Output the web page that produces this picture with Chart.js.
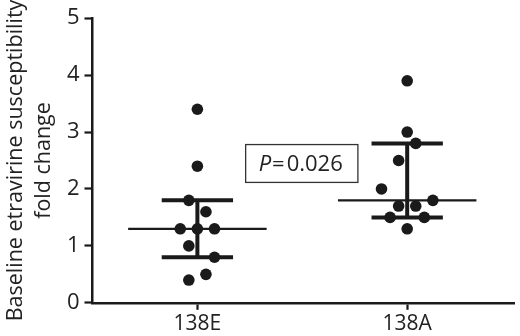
<!DOCTYPE html>
<html>
<head>
<meta charset="utf-8">
<script src="https://cdn.jsdelivr.net/npm/chart.js@4"></script>
<style>
  html, body { margin: 0; padding: 0; background: #fff; }
  #wrap { width: 520px; height: 336px; }
</style>
</head>
<body>
<div id="wrap"><canvas id="chart" width="520" height="336"></canvas></div>
<script>
// categories and values
const categories = ["138E", "138A"];
const values138E = [3.4, 2.4, 1.8, 1.6, 1.3, 1.3, 1.3, 1.0, 0.8, 0.5, 0.4];
const jitter138E = [0, 0, -1, 1, -2, 0, 2, -1, 2, 1, -1];
const values138A = [3.9, 3.0, 2.8, 2.5, 2.0, 1.8, 1.7, 1.7, 1.5, 1.5, 1.3];
const jitter138A = [0, 0, 1, -1, -3, 3, -1, 1, -2, 2, 0];
const medians = [1.3, 1.8];
const q1 = [0.8, 1.5];
const q3 = [1.8, 2.8];
const yTicks = [0, 1, 2, 3, 4, 5];
const pLabel = "0.026";

const INK = "#1a1a1a";
const STEP = 0.0408;     // horizontal spacing of dots, x units
const MED_HALF = 0.33;   // half width of median line
const CAP_HALF = 0.17;   // half width of IQR caps

function dots(vals, jit, cat) {
    return vals.map((v, i) => ({ x: cat + jit[i] * STEP, y: v }));
}

// median lines, caps and whiskers as one line dataset each, gaps between segments
const medianPts = [];
const iqrPts = [];
categories.forEach((c, i) => {
    const x = i + 1;
    medianPts.push({ x: x - MED_HALF, y: medians[i] }, { x: x + MED_HALF, y: medians[i] }, { x: x, y: null });
    iqrPts.push({ x: x - CAP_HALF, y: q3[i] }, { x: x + CAP_HALF, y: q3[i] }, { x: x, y: null });
    iqrPts.push({ x: x - CAP_HALF, y: q1[i] }, { x: x + CAP_HALF, y: q1[i] }, { x: x, y: null });
    iqrPts.push({ x: x, y: q1[i] }, { x: x, y: q3[i] }, { x: x, y: null });
});

// P value box, in data coordinates
const pBox = { x0: 1.23, x1: 1.765, y0: 2.115, y1: 2.78 };

const pBoxPlugin = {
    id: "pBox",
    afterDatasetsDraw(chart) {
        const { ctx, scales } = chart;
        const l = scales.x.getPixelForValue(pBox.x0);
        const r = scales.x.getPixelForValue(pBox.x1);
        const t = scales.y.getPixelForValue(pBox.y1);
        const b = scales.y.getPixelForValue(pBox.y0);
        ctx.save();
        ctx.strokeStyle = "#333";
        ctx.lineWidth = 1.3;
        ctx.strokeRect(l, t, r - l, b - t);
        ctx.fillStyle = "#222";
        ctx.textBaseline = "middle";
        const cy = (t + b) / 2 + 1;
        ctx.font = "italic 22px 'Open Sans'";
        let x = l + 13;
        ctx.fillText("P", x, cy);
        x += ctx.measureText("P").width + 1;
        ctx.font = "22px 'Open Sans'";
        ctx.fillText("=", x, cy);
        x += ctx.measureText("=").width + 2;
        ctx.fillText(pLabel, x, cy);
        ctx.restore();
    }
};

new Chart(document.getElementById("chart"), {
    type: "scatter",
    data: {
        datasets: [
            {
                type: "line",
                data: medianPts,
                borderColor: INK,
                borderWidth: 2.2,
                pointRadius: 0,
                spanGaps: false,
                order: 2
            },
            {
                type: "line",
                data: iqrPts,
                borderColor: INK,
                borderWidth: 4,
                borderCapStyle: "butt",
                pointRadius: 0,
                spanGaps: false,
                order: 2
            },
            {
                data: dots(values138E, jitter138E, 1),
                backgroundColor: INK,
                borderWidth: 0,
                pointRadius: 5.8,
                order: 1
            },
            {
                data: dots(values138A, jitter138A, 2),
                backgroundColor: INK,
                borderWidth: 0,
                pointRadius: 5.8,
                order: 1
            }
        ]
    },
    options: {
        responsive: false,
        animation: false,
        layout: { padding: { top: 6, right: 0, left: 2, bottom: -3 } },
        plugins: {
            legend: { display: false },
            tooltip: { enabled: false }
        },
        scales: {
            x: {
                type: "linear",
                min: 0.5,
                max: 2.51,
                afterBuildTicks: (axis) => {
                    axis.ticks = categories.map((c, i) => ({ value: i + 1 }));
                },
                ticks: {
                    callback: (v) => categories[Math.round(v) - 1],
                    color: "#222",
                    font: { family: "'Open Sans'", size: 21 },
                    padding: 2,
                    maxRotation: 0
                },
                grid: { drawOnChartArea: false, tickLength: 7, tickColor: INK, tickWidth: 2.2 },
                border: { color: INK, width: 2.5 }
            },
            y: {
                min: 0,
                max: 5,
                afterBuildTicks: (axis) => {
                    axis.ticks = yTicks.map(v => ({ value: v }));
                },
                ticks: {
                    color: "#222",
                    font: { family: "'Open Sans'", size: 22 },
                    padding: 5
                },
                grid: { drawOnChartArea: false, tickLength: 8, tickColor: INK, tickWidth: 2.2 },
                border: { color: INK, width: 2.5 },
                title: {
                    display: true,
                    text: ["Baseline etravirine susceptibility", "fold change"],
                    color: "#222",
                    font: { family: "'Open Sans'", size: 21.5, lineHeight: 1.3 },
                    padding: { top: 0, bottom: 4 }
                }
            }
        }
    },
    plugins: [pBoxPlugin]
});
</script>
</body>
</html>
